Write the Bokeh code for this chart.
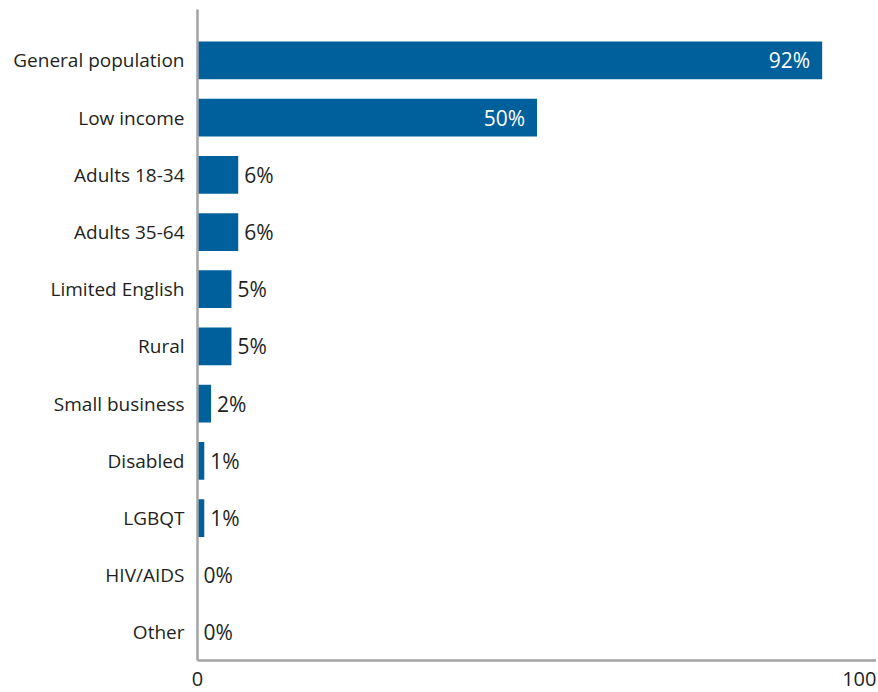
from bokeh.plotting import figure
from bokeh.models import ColumnDataSource, Range1d, FixedTicker
from bokeh.core.properties import value
from bokeh.embed import file_html
from bokeh.resources import INLINE

categories = ["General population", "Low income", "Adults 18-34", "Adults 35-64",
              "Limited English", "Rural", "Small business", "Disabled", "LGBQT",
              "HIV/AIDS", "Other"]
values = [92, 50, 6, 6, 5, 5, 2, 1, 1, 0, 0]
value_labels = ["92%", "50%", "6%", "6%", "5%", "5%", "2%", "1%", "1%", "0%", "0%"]
x_ticks = [0, 100]
x_tick_labels = ["0", "100"]

FONT = "Open Sans"
TEXT_COLOR = "#231f20"
BAR_COLOR = "#00609c"
AXIS_COLOR = "#a3a3a3"

n = len(categories)
ypos = [n - 1 - i for i in range(n)]

p = figure(width=876, height=690, output_backend="svg", toolbar_location=None,
           x_range=Range1d(0, 100), y_range=Range1d(-0.49, 10.89),
           min_border_left=197, min_border_right=0, min_border_top=9, min_border_bottom=30)
p.outline_line_color = None
p.xgrid.visible = False
p.ygrid.visible = False
p.background_fill_color = "white"

src = ColumnDataSource(dict(y=ypos, v=values, lab=value_labels, cat=categories))
p.hbar(y="y", right="v", left=0, height=0.66, source=src, fill_color=BAR_COLOR, line_color=None)

inside = [i for i in range(n) if values[i] >= 20]
outside = [i for i in range(n) if values[i] < 20]
src_in = ColumnDataSource(dict(x=[values[i] for i in inside], y=[ypos[i] for i in inside],
                               t=[value_labels[i] for i in inside]))
src_out = ColumnDataSource(dict(x=[values[i] for i in outside], y=[ypos[i] for i in outside],
                                t=[value_labels[i] for i in outside]))
p.text(x="x", y="y", text="t", source=src_in, text_align="right", text_baseline="middle",
       x_offset=-12, text_color="white", text_font=value(FONT), text_font_size="21px")
p.text(x="x", y="y", text="t", source=src_out, text_align="left", text_baseline="middle",
       x_offset=6, text_color=TEXT_COLOR, text_font=value(FONT), text_font_size="21px")

# y axis
p.yaxis.ticker = FixedTicker(ticks=ypos)
p.yaxis.major_label_overrides = {ypos[i]: categories[i] for i in range(n)}
p.yaxis.major_label_text_font = FONT
p.yaxis.major_label_text_font_size = "19px"
p.yaxis.major_label_text_color = TEXT_COLOR
p.yaxis.major_label_standoff = 13
p.yaxis.major_tick_line_color = None
p.yaxis.minor_tick_line_color = None
p.yaxis.major_tick_out = 0
p.yaxis.major_tick_in = 0
p.yaxis.axis_line_color = AXIS_COLOR
p.yaxis.axis_line_width = 2.5

# x axis
p.xaxis.ticker = FixedTicker(ticks=x_ticks)
p.xaxis.major_label_overrides = {x_ticks[i]: x_tick_labels[i] for i in range(len(x_ticks))}
p.xaxis.major_label_text_font = FONT
p.xaxis.major_label_text_font_size = "20px"
p.xaxis.major_label_text_color = TEXT_COLOR
p.xaxis.major_label_standoff = 11
p.xaxis.major_tick_line_color = None
p.xaxis.minor_tick_line_color = None
p.xaxis.major_tick_out = 0
p.xaxis.major_tick_in = 0
p.xaxis.axis_line_color = AXIS_COLOR
p.xaxis.axis_line_width = 2.5

open("out.html", "w").write(file_html(p, INLINE))
